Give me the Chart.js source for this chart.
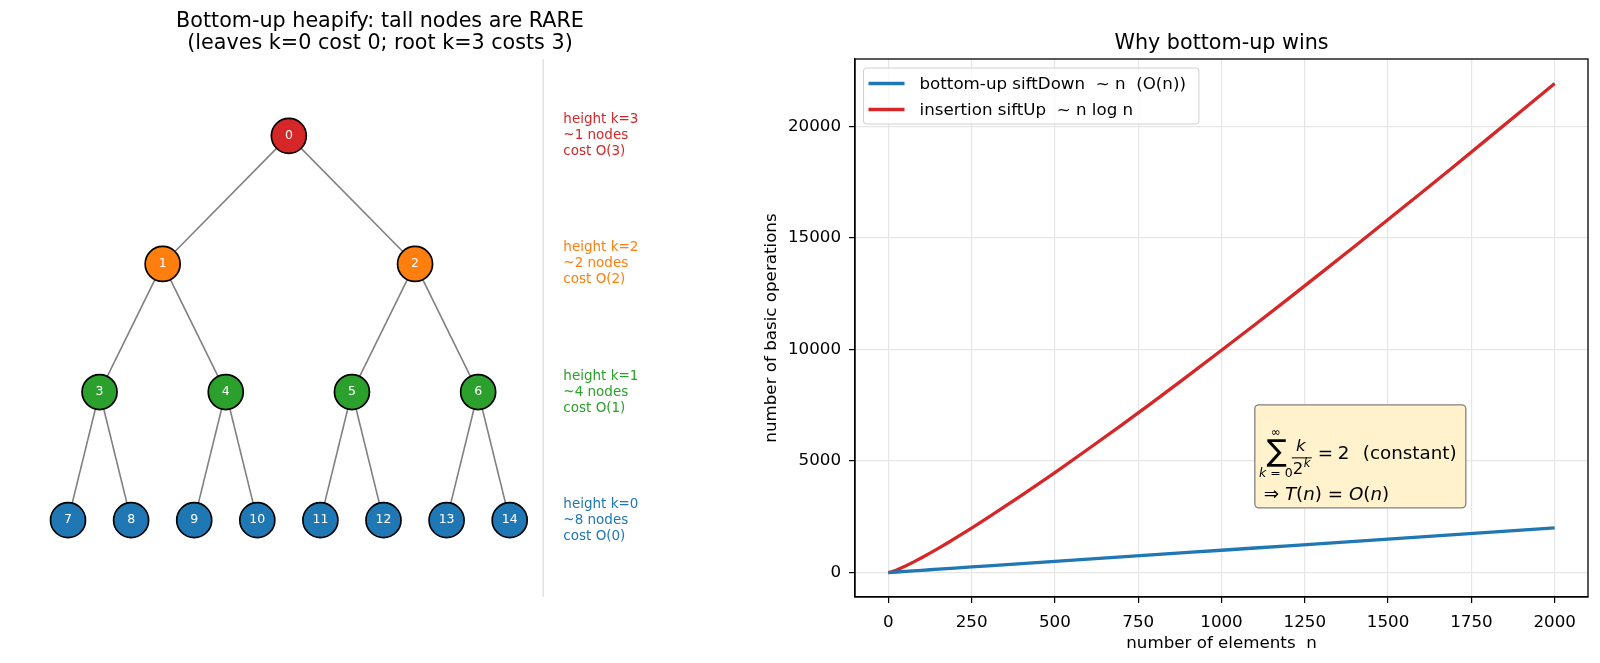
<!DOCTYPE html>
<html>
<head>
<meta charset="utf-8">
<script src="https://cdn.jsdelivr.net/npm/chart.js@4.4.0/dist/chart.umd.min.js"></script>
<style>
  html, body { margin: 0; padding: 0; background: #fff; overflow: hidden; }
  #leftBox { position: absolute; left: 0; top: 0; width: 740px; height: 663px; }
  #rightBox { position: absolute; left: 740px; top: 0; width: 860px; height: 663px; }
</style>
</head>
<body>
<div id="leftBox"><canvas id="treeChart"></canvas></div>
<div id="rightBox"><canvas id="costChart"></canvas></div>
<script>
const FONT = '"DejaVu Sans", "Liberation Sans", sans-serif';

// --- left panel: heap of 15 nodes, x = slot, y = height k
const nodeIds = [0, 1, 2, 3, 4, 5, 6, 7, 8, 9, 10, 11, 12, 13, 14];
const nodeX = [3.5, 1.5, 5.5, 0.5, 2.5, 4.5, 6.5, 0, 1, 2, 3, 4, 5, 6, 7];
const nodeK = [3, 2, 2, 1, 1, 1, 1, 0, 0, 0, 0, 0, 0, 0, 0];
const levelK = [3, 2, 1, 0];
const levelCounts = [1, 2, 4, 8];
const levelColors = ['#d62728', '#ff7f0e', '#2ca02c', '#1f77b4'];
const levelTextX = 7.85;
const dividerX = 7.53;

// --- right panel: operation counts
const nValues = [0, 10, 25, 50, 75, 100, 125, 150, 175, 200, 250, 300, 400, 500, 600, 700, 800, 900, 1000,
  1100, 1200, 1300, 1400, 1500, 1600, 1700, 1800, 1900, 2000];
const siftDownOps = [0, 10, 25, 50, 75, 100, 125, 150, 175, 200, 250, 300, 400, 500, 600, 700, 800, 900, 1000,
  1100, 1200, 1300, 1400, 1500, 1600, 1700, 1800, 1900, 2000];
const siftUpOps = [0, 33, 116, 282, 467, 664, 871, 1084, 1304, 1529, 1990, 2470, 3460, 4480, 5540, 6610, 7710, 8830, 9970,
  11110, 12270, 13450, 14630, 15830, 17030, 18240, 19470, 20700, 21930];
const xTicks = [0, 250, 500, 750, 1000, 1250, 1500, 1750, 2000];
const yTicks = [0, 5000, 10000, 15000, 20000];
const annotAt = [1100, 2900];

function colorForK(k) {
  return levelColors[levelK.indexOf(k)];
}

function titlePlugin(lines, firstY, gap) {
  return {
    id: 'axesTitle',
    afterDraw(chart) {
      const ctx = chart.ctx, a = chart.chartArea;
      ctx.save();
      ctx.font = '20.7px ' + FONT;
      ctx.fillStyle = '#000';
      ctx.textAlign = 'center';
      ctx.textBaseline = 'middle';
      lines.forEach((t, i) => ctx.fillText(t, (a.left + a.right) / 2, firstY + i * gap));
      ctx.restore();
    }
  };
}

// ---------- tree chart ----------
const edgeSets = [];
for (let i = 1; i < nodeIds.length; i++) {
  const p = (i - 1) >> 1;
  edgeSets.push({
    data: [{ x: nodeX[p], y: nodeK[p] }, { x: nodeX[i], y: nodeK[i] }],
    showLine: true,
    borderColor: '#808080',
    borderWidth: 1.6,
    pointRadius: 0,
    order: 1
  });
}

const treeDecor = {
  id: 'treeDecor',
  beforeDatasetsDraw(chart) {
    const ctx = chart.ctx, a = chart.chartArea;
    const px = chart.scales.x.getPixelForValue(dividerX);
    ctx.save();
    ctx.strokeStyle = '#d3d3d3';
    ctx.lineWidth = 1;
    ctx.beginPath();
    ctx.moveTo(px, a.top);
    ctx.lineTo(px, a.bottom);
    ctx.stroke();
    ctx.restore();
  },
  afterDatasetsDraw(chart) {
    const ctx = chart.ctx;
    const meta = chart.getDatasetMeta(chart.data.datasets.length - 1);
    ctx.save();
    ctx.font = '12.5px ' + FONT;
    ctx.fillStyle = '#fff';
    ctx.textAlign = 'center';
    ctx.textBaseline = 'middle';
    meta.data.forEach((pt, i) => ctx.fillText(String(nodeIds[i]), pt.x, pt.y));

    ctx.font = '13.5px ' + FONT;
    ctx.textAlign = 'left';
    const tx = chart.scales.x.getPixelForValue(levelTextX);
    levelK.forEach((k, j) => {
      const cy = chart.scales.y.getPixelForValue(k);
      const lines = ['height k=' + k, '~' + levelCounts[j] + ' nodes', 'cost O(' + k + ')'];
      ctx.fillStyle = levelColors[j];
      lines.forEach((t, li) => ctx.fillText(t, tx, cy + (li - 1) * 16));
    });
    ctx.restore();
  }
};

new Chart(document.getElementById('treeChart'), {
  type: 'scatter',
  data: {
    datasets: edgeSets.concat([{
      data: nodeIds.map(i => ({ x: nodeX[i], y: nodeK[i] })),
      pointRadius: 17.5,
      pointHoverRadius: 17.5,
      pointBackgroundColor: nodeIds.map(i => colorForK(nodeK[i])),
      pointBorderColor: '#000',
      pointBorderWidth: 1.7,
      clip: false,
      order: 0
    }])
  },
  options: {
    responsive: true,
    maintainAspectRatio: false,
    animation: false,
    layout: { autoPadding: false, padding: { left: 20, right: 0, top: 59, bottom: 66 } },
    scales: {
      x: { type: 'linear', display: false, min: -0.761, max: 10.65 },
      y: { type: 'linear', display: false, min: -0.6, max: 3.6 }
    },
    plugins: { legend: { display: false }, tooltip: { enabled: false } }
  },
  plugins: [treeDecor, titlePlugin(['Bottom-up heapify: tall nodes are RARE',
    '(leaves k=0 cost 0; root k=3 costs 3)'], 21.5, 22.5)]
});

// ---------- cost chart ----------
function drawRuns(ctx, runs, x, y, size) {
  let cx = x;
  runs.forEach(r => {
    ctx.font = (r.it ? 'italic ' : '') + size + 'px ' + FONT;
    ctx.fillText(r.t, cx, y);
    cx += ctx.measureText(r.t).width;
  });
  return cx;
}
function runsWidth(ctx, runs, size) {
  let w = 0;
  runs.forEach(r => {
    ctx.font = (r.it ? 'italic ' : '') + size + 'px ' + FONT;
    w += ctx.measureText(r.t).width;
  });
  return w;
}

const costDecor = {
  id: 'costDecor',
  afterDatasetsDraw(chart) {
    const ctx = chart.ctx, a = chart.chartArea;
    ctx.save();
    // frame
    ctx.strokeStyle = '#000';
    ctx.lineWidth = 1.3;
    ctx.strokeRect(a.left, a.top, a.right - a.left, a.bottom - a.top);

    // legend
    const fs = 16.7;
    ctx.font = fs + 'px ' + FONT;
    const labels = chart.data.datasets.map(d => d.label);
    const tw = Math.max(...labels.map(t => ctx.measureText(t).width));
    const lx = a.left + 8.5, ly = a.top + 9;
    const lw = 6 + 36 + 13 + tw + 14, lh = 56;
    ctx.beginPath();
    ctx.roundRect(lx, ly, lw, lh, 3);
    ctx.fillStyle = 'rgba(255,255,255,0.8)';
    ctx.fill();
    ctx.strokeStyle = '#d0d0d0';
    ctx.lineWidth = 1;
    ctx.stroke();
    ctx.textAlign = 'left';
    ctx.textBaseline = 'middle';
    chart.data.datasets.forEach((d, i) => {
      const y = ly + 15.5 + i * 26;
      ctx.strokeStyle = d.borderColor;
      ctx.lineWidth = 3.3;
      ctx.beginPath();
      ctx.moveTo(lx + 5, y);
      ctx.lineTo(lx + 41, y);
      ctx.stroke();
      ctx.fillStyle = '#000';
      ctx.font = fs + 'px ' + FONT;
      ctx.fillText(d.label, lx + 56, y + 1);
    });

    // annotation box
    const bx = chart.scales.x.getPixelForValue(annotAt[0]);
    const bh = 103, bw = 211;
    const by = chart.scales.y.getPixelForValue(annotAt[1]) - bh;
    ctx.beginPath();
    ctx.roundRect(bx, by, bw, bh, 4);
    ctx.fillStyle = '#fff2cc';
    ctx.fill();
    ctx.strokeStyle = '#808080';
    ctx.lineWidth = 1.3;
    ctx.stroke();

    ctx.fillStyle = '#000';
    ctx.textBaseline = 'middle';
    ctx.textAlign = 'center';
    ctx.font = '12px ' + FONT;
    ctx.fillText('\u221E', bx + 21, by + 28);
    ctx.font = '30px ' + FONT;
    ctx.fillText('\u2211', bx + 22, by + 48);
    ctx.textAlign = 'left';
    const sub = [{ t: 'k', it: true }, { t: ' = 0' }];
    drawRuns(ctx, sub, bx + 21 - runsWidth(ctx, sub, 12.5) / 2, by + 69, 12.5);
    ctx.textAlign = 'center';
    ctx.font = 'italic 16.5px ' + FONT;
    ctx.fillText('k', bx + 46, by + 42);
    ctx.strokeStyle = '#000';
    ctx.lineWidth = 1;
    ctx.beginPath();
    ctx.moveTo(bx + 37, by + 53);
    ctx.lineTo(bx + 57, by + 53);
    ctx.stroke();
    ctx.textAlign = 'left';
    ctx.font = '16.5px ' + FONT;
    ctx.fillText('2', bx + 38, by + 65);
    ctx.font = 'italic 11.5px ' + FONT;
    ctx.fillText('k', bx + 49, by + 59);
    ctx.font = '18.3px ' + FONT;
    ctx.fillText('=', bx + 63, by + 49);
    ctx.fillText('2', bx + 83, by + 49);
    ctx.fillText('(constant)', bx + 108, by + 49);
    drawRuns(ctx, [{ t: '\u21D2 ' }, { t: 'T', it: true }, { t: '(' }, { t: 'n', it: true },
      { t: ') = ' }, { t: 'O', it: true }, { t: '(' }, { t: 'n', it: true }, { t: ')' }],
      bx + 9, by + 90, 18.3);
    ctx.restore();
  }
};

const tickFont = { family: FONT, size: 16.7 };
new Chart(document.getElementById('costChart'), {
  type: 'line',
  data: {
    datasets: [{
      label: 'bottom-up siftDown  ~ n  (O(n))',
      data: nValues.map((n, i) => ({ x: n, y: siftDownOps[i] })),
      borderColor: '#1f77b4',
      borderWidth: 3.3,
      pointRadius: 0,
      tension: 0
    }, {
      label: 'insertion siftUp  ~ n log n',
      data: nValues.map((n, i) => ({ x: n, y: siftUpOps[i] })),
      borderColor: '#d62728',
      borderWidth: 3.3,
      pointRadius: 0,
      tension: 0
    }]
  },
  options: {
    responsive: true,
    maintainAspectRatio: false,
    animation: false,
    layout: { padding: { left: 0, right: 12, top: 59, bottom: 0 } },
    scales: {
      x: {
        type: 'linear', min: -100, max: 2100,
        afterBuildTicks: s => { s.ticks = xTicks.map(v => ({ value: v })); },
        afterFit: s => { s.height = 66; },
        ticks: { font: tickFont, color: '#000', padding: 10, maxRotation: 0, autoSkip: false, callback: v => String(v) },
        grid: { color: '#e6e6e6', lineWidth: 1.2, tickColor: '#000', tickLength: 6 },
        border: { color: '#000', width: 1.3 },
        title: { display: true, text: 'number of elements  n', font: tickFont, color: '#000', padding: { top: 0, bottom: 9 } }
      },
      y: {
        type: 'linear', min: -1097, max: 23029,
        afterBuildTicks: s => { s.ticks = yTicks.map(v => ({ value: v })); },
        afterFit: s => { s.width = 115; },
        ticks: { font: tickFont, color: '#000', padding: 8, autoSkip: false, callback: v => String(v) },
        grid: { color: '#e6e6e6', lineWidth: 1.2, tickColor: '#000', tickLength: 6 },
        border: { color: '#000', width: 1.3 },
        title: { display: true, text: 'number of basic operations', font: tickFont, color: '#000', padding: { top: 22, bottom: 0 } }
      }
    },
    plugins: { legend: { display: false }, tooltip: { enabled: false } }
  },
  plugins: [costDecor, titlePlugin(['Why bottom-up wins'], 44, 0)]
});
</script>
</body>
</html>
